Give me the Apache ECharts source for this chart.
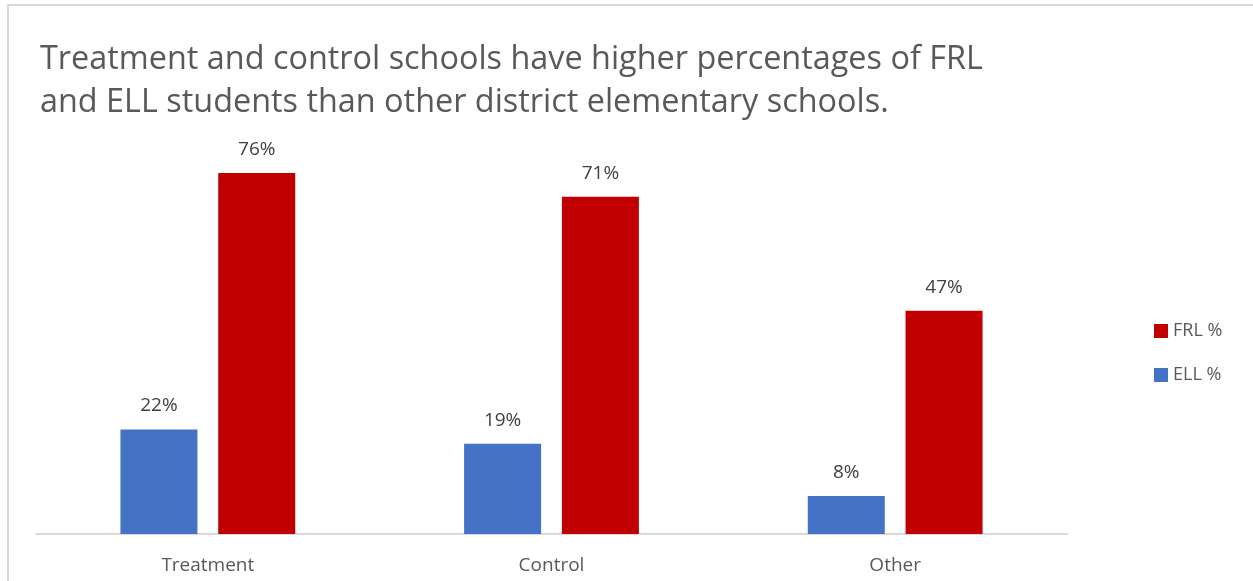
<!DOCTYPE html>
<html>
<head>
<meta charset="utf-8">
<script src="https://cdn.jsdelivr.net/npm/echarts@6/dist/echarts.min.js"></script>
<style>
  html, body { margin: 0; padding: 0; background: #fff; overflow: hidden; }
  #chart { width: 1253px; height: 581px; }
  .frame {
    position: absolute; left: 7px; top: 4px; width: 1300px; height: 700px;
    border-left: 2px solid #d9d9d9; border-top: 2px solid #d9d9d9;
    pointer-events: none;
  }
</style>
</head>
<body>
<div id="chart"></div>
<div class="frame"></div>
<script>
// chart data
const categories = ["Treatment", "Control", "Other"];
const ellValues = [22, 19, 8];
const frlValues = [76, 71, 47];
const legendNames = ["FRL %", "ELL %"];

const font = "'Open Sans', 'Noto Sans', sans-serif";

var chartDom = document.getElementById("chart");
var myChart = echarts.init(chartDom);
var option = {
  animation: false,
  title: {
    text: "Treatment and control schools have higher percentages of FRL\nand ELL students than other district elementary schools.",
    left: 35,
    top: 33,
    textStyle: {
      fontFamily: font,
      fontSize: 32.4,
      fontWeight: "normal",
      color: "#595959",
      lineHeight: 43,
    },
  },
  legend: {
    data: legendNames,
    orient: "vertical",
    left: 1149,
    top: 317,
    itemWidth: 14,
    itemHeight: 14,
    itemGap: 26,
    icon: "rect",
    textStyle: { fontFamily: font, fontSize: 18, color: "#595959" },
  },
  grid: { left: 36, right: 186, top: 154, bottom: 47 },
  xAxis: {
    type: "category",
    data: categories,
    axisLine: { lineStyle: { color: "#d9d9d9", width: 2 } },
    axisTick: { show: false },
    axisLabel: { fontFamily: font, fontSize: 19, color: "#595959", margin: 22 },
  },
  yAxis: {
    type: "value",
    min: 0,
    max: 80,
    show: false,
    splitLine: { show: false },
  },
  series: [
    {
      name: "ELL %",
      type: "bar",
      data: ellValues,
      barWidth: 77,
      barGap: "27%",
      itemStyle: { color: "#4472C4" },
      label: {
        show: true,
        position: "top",
        distance: 14,
        formatter: "{c}%",
        fontFamily: font,
        fontSize: 19,
        color: "#404040",
      },
    },
    {
      name: "FRL %",
      type: "bar",
      data: frlValues,
      barWidth: 77,
      itemStyle: { color: "#C00000" },
      label: {
        show: true,
        position: "top",
        distance: 14,
        formatter: "{c}%",
        fontFamily: font,
        fontSize: 19,
        color: "#404040",
      },
    },
  ],
};
myChart.setOption(option);
</script>
</body>
</html>
